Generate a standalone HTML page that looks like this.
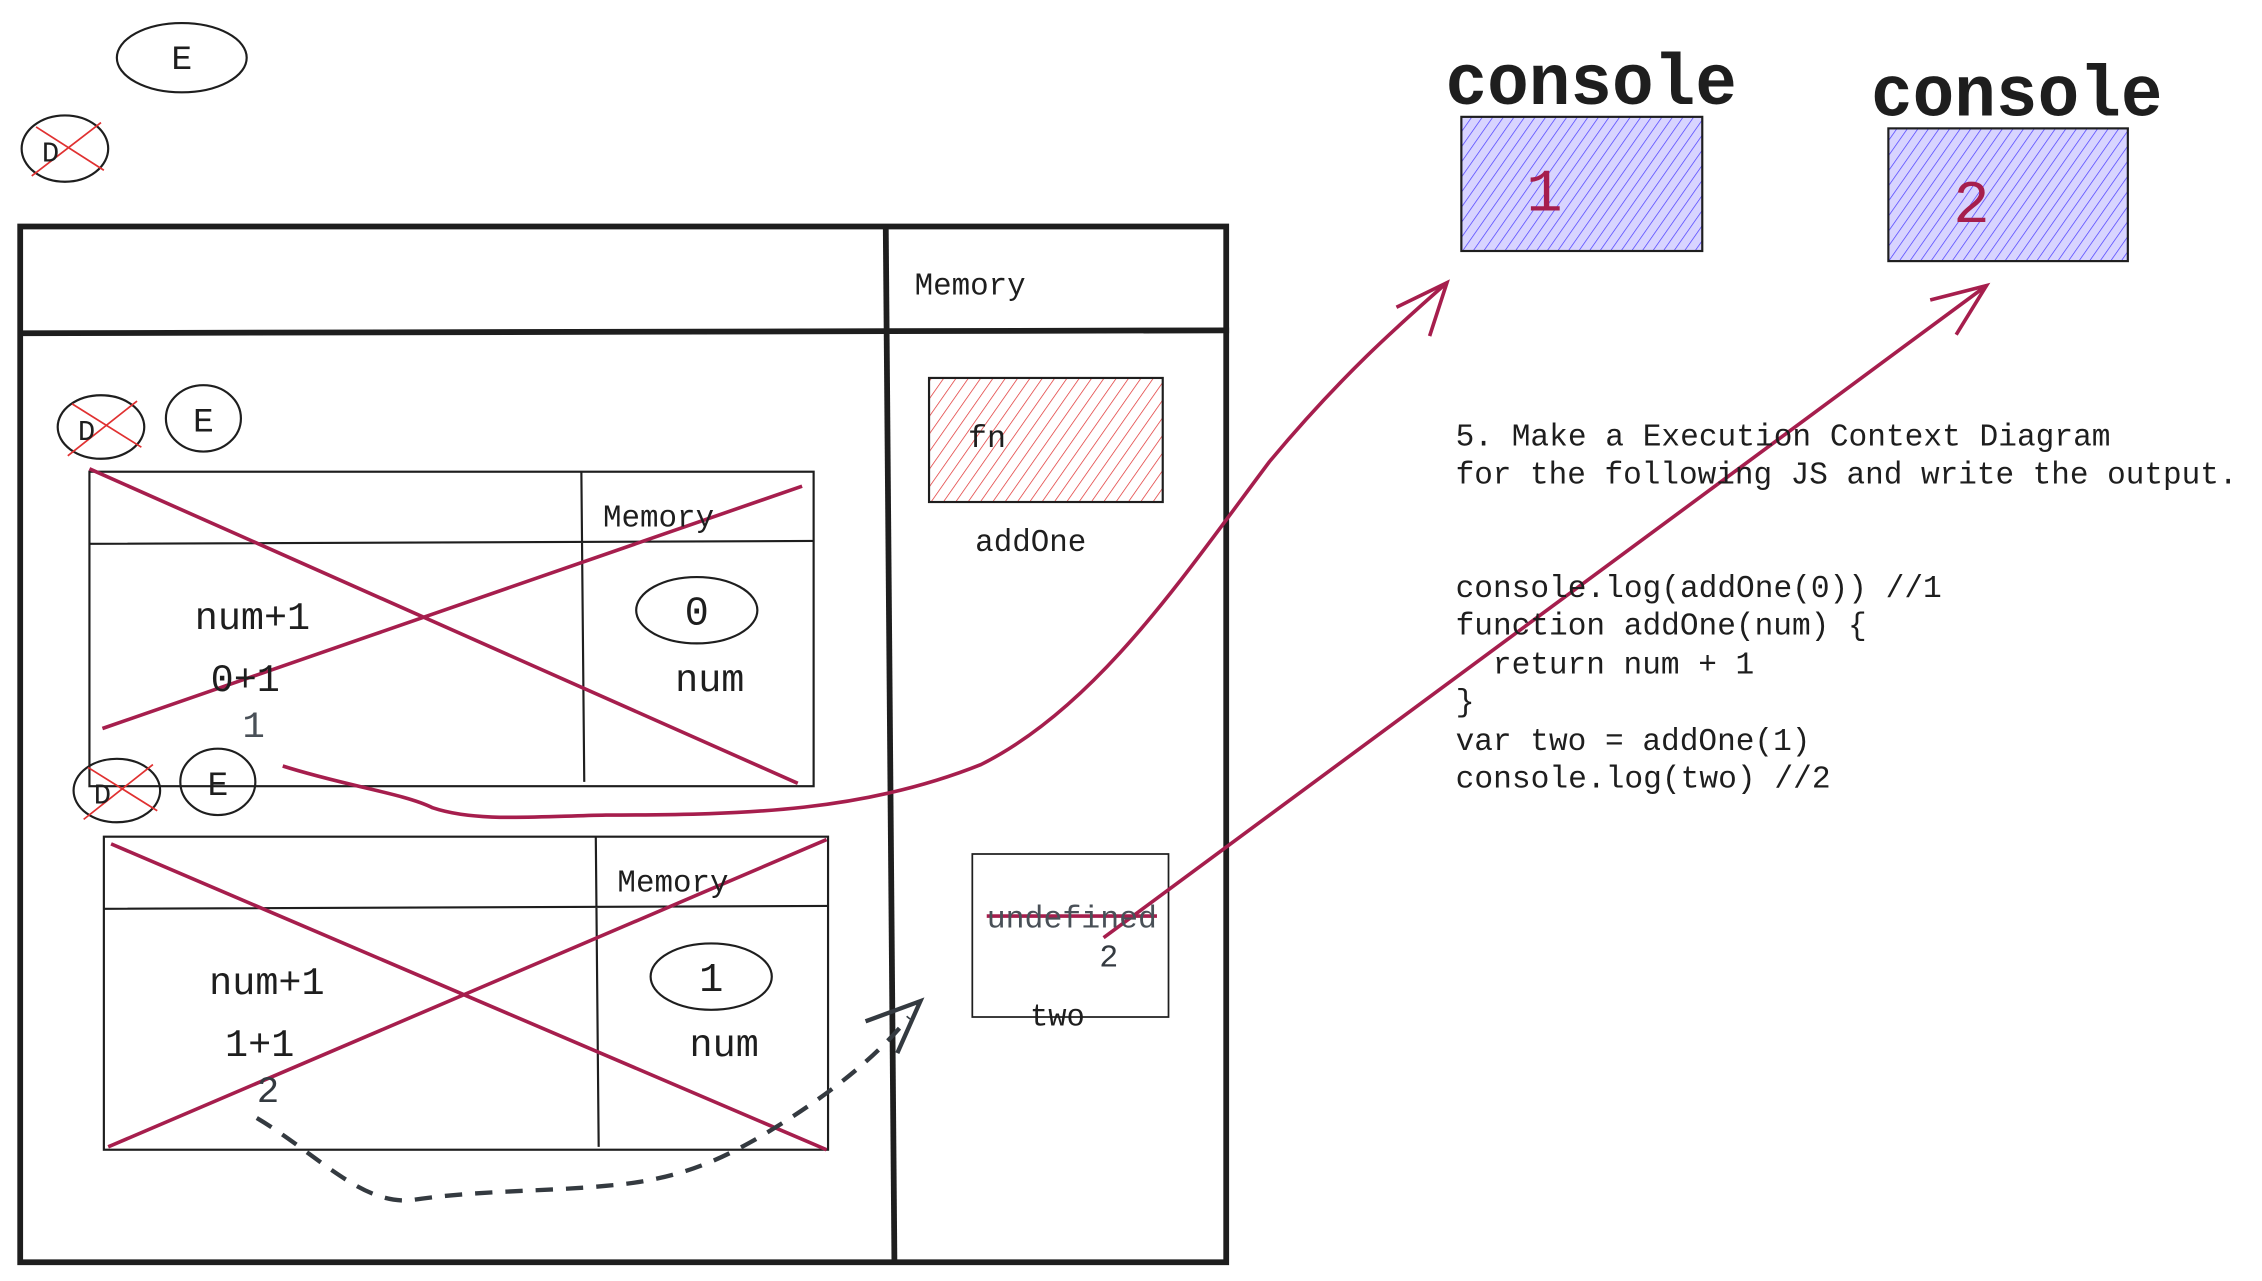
<!DOCTYPE html>
<html><head><meta charset="utf-8"><style>
html,body{margin:0;padding:0;background:#fff;overflow:hidden}
svg{display:block}
text{font-family:"Liberation Mono","DejaVu Sans Mono",monospace;fill:#1e1e1e}
</style></head><body>
<svg width="2262" height="1281" viewBox="0 0 1568 888" preserveAspectRatio="none" xmlns="http://www.w3.org/2000/svg">
<defs>
<pattern id="hr" width="7" height="7" patternUnits="userSpaceOnUse" patternTransform="rotate(35)">
<line x1="0" y1="0" x2="0" y2="7" stroke="#e03131" stroke-width="1"/></pattern>
<pattern id="hb" width="6" height="6" patternUnits="userSpaceOnUse" patternTransform="rotate(35)">
<rect width="6" height="6" fill="#d8d4ff"/>
<line x1="0" y1="0" x2="0" y2="6" stroke="#4c3fff" stroke-width="1"/></pattern>
</defs>
<g fill="none" stroke="#1e1e1e">
<ellipse cx="126" cy="40" rx="45" ry="24" stroke-width="1.5"/>
<ellipse cx="45" cy="103" rx="30" ry="23" stroke-width="1.5"/>
<ellipse cx="70" cy="296" rx="30" ry="22" stroke-width="1.5"/>
<ellipse cx="141" cy="290" rx="26" ry="23" stroke-width="1.5"/>
<ellipse cx="81" cy="548" rx="30" ry="22" stroke-width="1.5"/>
<ellipse cx="151" cy="542" rx="26" ry="23" stroke-width="1.5"/>
<path d="M14 157 H850 V875 H14 Z" stroke-width="4"/>
<path d="M14 231 L852 229" stroke-width="4"/>
<path d="M614 157 L620 875" stroke-width="4"/>
<rect x="62" y="327" width="502" height="218" stroke-width="1.5"/>
<path d="M62 377 L564 375 M403 327 L405 542" stroke-width="1.5"/>
<ellipse cx="483" cy="423" rx="42" ry="23" stroke-width="1.5"/>
<rect x="72" y="580" width="502" height="217" stroke-width="1.5"/>
<path d="M72 630 L574 628 M413 580 L415 795" stroke-width="1.5"/>
<ellipse cx="493" cy="677" rx="42" ry="23" stroke-width="1.5"/>
<rect x="674" y="592" width="136" height="113" stroke-width="1.2"/>
</g>
<rect x="644" y="262" width="162" height="86" fill="url(#hr)" stroke="#1e1e1e" stroke-width="1.5"/>
<rect x="1013" y="81" width="167" height="93" fill="url(#hb)" stroke="#1e1e1e" stroke-width="1.5"/>
<rect x="1309" y="89" width="166" height="92" fill="url(#hb)" stroke="#1e1e1e" stroke-width="1.5"/>
<g stroke="#e03131" stroke-width="1.2">
<path d="M22 122 L70 85 M25 88 L72 118"/>
<path d="M47 316 L95 278 M50 280 L98 310"/>
<path d="M58 568 L106 530 M61 532 L109 562"/>
</g>
<g fill="none" stroke="#a61e4d" stroke-width="2.5">
<path d="M62 325 L553 543 M71 505 L556 337"/>
<path d="M77 585 L573 797 M75 795 L573 582"/>
<path d="M684 635 L802 635"/>
<path d="M196 531 C240 545 280 550 300 560 C330 570 370 566 420 565 C520 565 600 562 680 530 C760 490 820 400 880 320 C930 260 970 225 1003 196"/>
<path d="M968 213 L1003 196 L991 233"/>
<path d="M765 650 L1377 198"/>
<path d="M1338 208 L1377 198 L1356 232"/>
</g>
<g fill="none" stroke="#343a40" stroke-width="3" stroke-dasharray="12 9">
<path d="M178 775 C220 800 250 835 285 832 C330 825 380 826 420 822 C470 818 500 805 540 780 C580 755 610 730 630 705"/>
</g>
<path d="M600 708 L638 694 L622 730" fill="none" stroke="#343a40" stroke-width="3"/>
<g lengthAdjust="spacingAndGlyphs">
<text x="126" y="48" font-size="24" text-anchor="middle">E</text>
<text x="29" y="112" font-size="20">D</text>
<text x="54" y="305" font-size="20">D</text>
<text x="141" y="299" font-size="24" text-anchor="middle">E</text>
<text x="65" y="557" font-size="20">D</text>
<text x="151" y="551" font-size="24" text-anchor="middle">E</text>
<text x="634" y="204" font-size="22" textLength="77" lengthAdjust="spacingAndGlyphs">Memory</text>
<text x="671" y="310" font-size="22">fn</text>
<text x="676" y="382" font-size="22" textLength="77" lengthAdjust="spacingAndGlyphs">addOne</text>
<text x="418" y="365" font-size="22" textLength="77" lengthAdjust="spacingAndGlyphs">Memory</text>
<text x="135" y="436" font-size="27" textLength="80" lengthAdjust="spacingAndGlyphs">num+1</text>
<text x="146" y="479" font-size="27" textLength="48" lengthAdjust="spacingAndGlyphs">0+1</text>
<text x="168" y="511" font-size="26" style="fill:#495057">1</text>
<text x="483" y="433" font-size="28" text-anchor="middle">0</text>
<text x="468" y="479" font-size="27" textLength="48" lengthAdjust="spacingAndGlyphs">num</text>
<text x="428" y="618" font-size="22" textLength="77" lengthAdjust="spacingAndGlyphs">Memory</text>
<text x="145" y="689" font-size="27" textLength="80" lengthAdjust="spacingAndGlyphs">num+1</text>
<text x="156" y="732" font-size="27" textLength="48" lengthAdjust="spacingAndGlyphs">1+1</text>
<text x="178" y="764" font-size="26" style="fill:#343a40">2</text>
<text x="493" y="687" font-size="28" text-anchor="middle">1</text>
<text x="478" y="732" font-size="27" textLength="48" lengthAdjust="spacingAndGlyphs">num</text>
<text x="684" y="643" font-size="22" textLength="118" lengthAdjust="spacingAndGlyphs" style="fill:#495057">undefined</text>
<text x="762" y="670" font-size="22" style="fill:#343a40">2</text>
<text x="714" y="711" font-size="22" textLength="38" lengthAdjust="spacingAndGlyphs">two</text>
<text x="1002" y="72" font-size="50" font-weight="bold" textLength="202" lengthAdjust="spacingAndGlyphs">console</text>
<text x="1297" y="80" font-size="50" font-weight="bold" textLength="202" lengthAdjust="spacingAndGlyphs">console</text>
<text x="1058" y="146" font-size="42" style="fill:#a61e4d">1</text>
<text x="1354" y="154" font-size="42" style="fill:#a61e4d">2</text>
</g>
<g font-size="22">
<text x="1009" y="309" textLength="454" lengthAdjust="spacingAndGlyphs">5. Make a Execution Context Diagram</text>
<text x="1009" y="335" textLength="542" lengthAdjust="spacingAndGlyphs">for the following JS and write the output.</text>
<text x="1009" y="414" textLength="337" lengthAdjust="spacingAndGlyphs">console.log(addOne(0)) //1</text>
<text x="1009" y="440" textLength="285" lengthAdjust="spacingAndGlyphs">function addOne(num) {</text>
<text x="1009" y="467" textLength="207" lengthAdjust="spacingAndGlyphs" xml:space="preserve">  return num + 1</text>
<text x="1009" y="493">}</text>
<text x="1009" y="520" textLength="246" lengthAdjust="spacingAndGlyphs">var two = addOne(1)</text>
<text x="1009" y="546" textLength="260" lengthAdjust="spacingAndGlyphs">console.log(two) //2</text>
</g>
</svg>
</body></html>
